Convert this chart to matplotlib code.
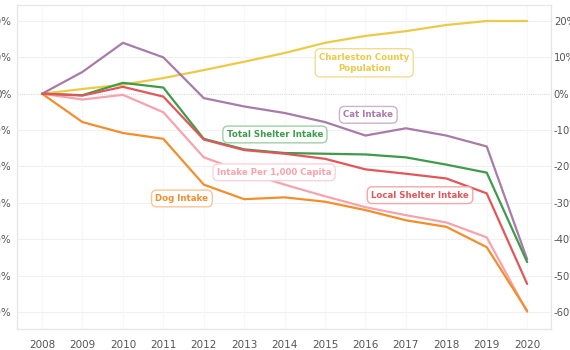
import matplotlib.pyplot as plt
from matplotlib.ticker import FuncFormatter

# Годы и изменения относительно 2008 (%)
years = list(range(2008, 2021))
population = [0, 1.3, 2.5, 4.3, 6.5, 8.8, 11.2, 14.0, 15.9, 17.2, 18.9, 20.0, 20.0]
cat_intake = [0, 6.0, 14.0, 10.0, -1.2, -3.5, -5.3, -7.8, -11.5, -9.5, -11.5, -14.5, -45.5]
total_shelter = [0, -0.4, 3.0, 1.7, -12.4, -15.3, -16.3, -16.5, -16.7, -17.5, -19.5, -21.7, -46.3]
local_shelter = [0, -0.5, 1.9, -0.8, -12.6, -15.5, -16.5, -17.9, -20.8, -22.0, -23.3, -27.4, -52.3]
per_capita = [0, -1.6, -0.3, -5.1, -17.5, -21.5, -25.0, -28.2, -31.2, -33.4, -35.4, -39.5, -60.0]
dog_intake = [0, -7.8, -10.8, -12.4, -25.0, -29.0, -28.5, -29.7, -32.0, -34.8, -36.6, -42.2, -59.7]

y_ticks = [20, 10, 0, -10, -20, -30, -40, -50, -60]

# данные, цвет, подпись, положение подписи, цвет рамки
series = [
    (population, '#EDC948', 'Charleston County\nPopulation', 2015.97, 8.5, '#F3DC8E'),
    (cat_intake, '#A87BA8', 'Cat Intake', 2016.07, -5.8, '#CDB2CD'),
    (total_shelter, '#3E9B4A', 'Total Shelter Intake', 2013.76, -11.2, '#9FCFA4'),
    (per_capita, '#F7A3AD', 'Intake Per 1,000 Capita', 2013.74, -21.6, '#FAD3D8'),
    (dog_intake, '#F28E2B', 'Dog Intake', 2011.46, -28.8, '#F8C595'),
    (local_shelter, '#E15759', 'Local Shelter Intake', 2017.35, -27.9, '#F0A9AA'),
]

fig = plt.figure(figsize=(5.7, 3.5), dpi=100)
ax = fig.add_axes([17 / 570, 21 / 350, 534 / 570, 324 / 350])

ax.set_xlim(2007.38, 2020.59)
ax.set_ylim(-64.7, 24.4)

for y in y_ticks:
    if y == 0:
        ax.axhline(y, color='#d8d8d8', linewidth=0.8, linestyle=(0, (1, 1)), zorder=0)
    else:
        ax.axhline(y, color='#f0f0f0', linewidth=0.8, zorder=0)
for yr in years:
    ax.axvline(yr, color='#f7f7f7', linewidth=0.8, zorder=0)

for vals, color, label, tx, ty, edge in series:
    ax.plot(years, vals, color=color, linewidth=1.6, solid_capstyle='round', zorder=3)
    ax.text(tx, ty, label, color=color, fontsize=6.2, fontweight='bold',
            ha='center', va='center', linespacing=1.35, zorder=5,
            bbox=dict(boxstyle='round,pad=0.45,rounding_size=0.6', fc='white',
                      ec=edge, lw=1.0))

fmt = FuncFormatter(lambda v, p: f'{int(v)}%')
ax.set_xticks(years)
ax.set_yticks(y_ticks)
ax.yaxis.set_major_formatter(fmt)
ax.tick_params(length=0, labelsize=7.5, colors='#555555', pad=4)
ax.tick_params(axis='x', pad=8)

ax2 = ax.twinx()
ax2.set_ylim(ax.get_ylim())
ax2.set_yticks(y_ticks)
ax2.yaxis.set_major_formatter(fmt)
ax2.tick_params(length=0, labelsize=7.2, colors='#555555', pad=2)

for a in (ax, ax2):
    for s in a.spines.values():
        s.set_color('#e6e6e6')
        s.set_linewidth(0.8)

fig.savefig('out.png', dpi=100)
